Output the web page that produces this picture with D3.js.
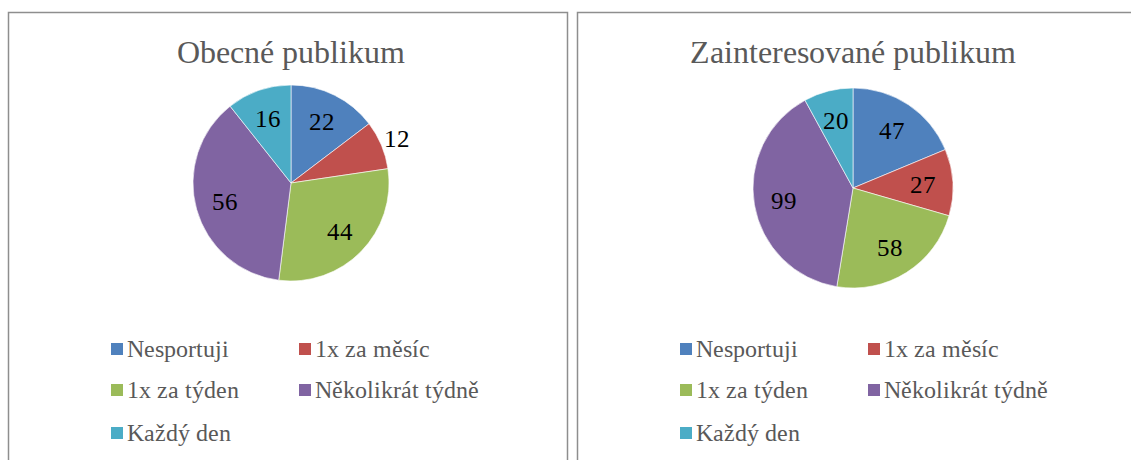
<!DOCTYPE html>
<html>
<head>
<meta charset="utf-8">
<script src="https://cdn.jsdelivr.net/npm/d3@7"></script>
<style>
@font-face { font-family: "ChartSerif"; src: local("Liberation Serif"), local("LiberationSerif"), local("LiberationSerif-Regular"); }
</style>
</head>
<body style="margin:0">
<svg id="chart" width="1131" height="460" style="display:block"></svg>
<script>
// ---- data ----
const categories = ["Nesportuji", "1x za měsíc", "1x za týden", "Několikrát týdně", "Každý den"];
const titles = ["Obecné publikum", "Zainteresované publikum"];
const valuesObecne = [22, 12, 44, 56, 16];
const valuesZainteresovane = [47, 27, 58, 99, 20];
const labelPlacementObecne = ["in", "out", "in", "in", "in"];
const labelPlacementZainteresovane = ["in", "in", "in", "in", "in"];
const colors = ["#4F81BD", "#C0504D", "#9BBB59", "#8064A2", "#4BACC6"];

const FONT = "ChartSerif, 'Liberation Serif', serif";
const svg = d3.select("#chart");

const panels = [
  { x: 8, y: 12, w: 559, h: 470, cx: 291, cy: 183, r: 98, title: titles[0], values: valuesObecne, place: labelPlacementObecne },
  { x: 577, y: 12, w: 560, h: 470, cx: 853, cy: 188, r: 100, title: titles[1], values: valuesZainteresovane, place: labelPlacementZainteresovane }
];

const color = d3.scaleOrdinal().domain(categories).range(colors);

panels.forEach(p => {
  const g = svg.append("g");
  g.append("rect")
    .attr("x", p.x + 0.5).attr("y", p.y + 0.5)
    .attr("width", p.w).attr("height", p.h)
    .attr("fill", "#fff").attr("stroke", "#8e8e8e").attr("stroke-width", 1.5);

  g.append("text")
    .attr("x", p.cx).attr("y", 63)
    .attr("text-anchor", "middle")
    .attr("font-family", FONT)
    .attr("font-size", 32)
    .attr("fill", "#595959")
    .text(p.title);

  const data = categories.map((c, i) => ({ cat: c, value: p.values[i], place: p.place[i] }));
  const pie = d3.pie().sort(null).value(d => d.value);
  const arcs = pie(data);
  const arc = d3.arc().innerRadius(0).outerRadius(p.r);
  const inLabel = d3.arc().innerRadius(p.r * 0.7).outerRadius(p.r * 0.7);
  const outLabel = d3.arc().innerRadius(p.r + 17).outerRadius(p.r + 17);

  const pg = g.append("g").attr("transform", `translate(${p.cx},${p.cy})`);
  pg.selectAll("path").data(arcs).enter().append("path")
    .attr("d", arc)
    .attr("fill", d => color(d.data.cat))
    .attr("stroke", "#fff").attr("stroke-width", 0.6);

  pg.selectAll("text.lbl").data(arcs).enter().append("text")
    .attr("class", "lbl")
    .attr("transform", d => `translate(${(d.data.place === "out" ? outLabel : inLabel).centroid(d)})`)
    .attr("text-anchor", "middle")
    .attr("dy", "0.35em")
    .attr("font-family", FONT)
    .attr("font-size", 25)
    .attr("fill", "#000")
    .text(d => d.data.value);

  // legend
  const colX = [p.x + 103, p.x + 291];
  const rowY = [349, 390, 433];
  const lg = g.append("g");
  categories.forEach((c, i) => {
    const cx = colX[i % 2], cy = rowY[Math.floor(i / 2)];
    lg.append("rect")
      .attr("x", cx).attr("y", cy - 6)
      .attr("width", 12).attr("height", 12)
      .attr("fill", color(c));
    lg.append("text")
      .attr("x", cx + 16).attr("y", cy)
      .attr("dy", "0.33em")
      .attr("font-family", FONT)
      .attr("font-size", 24)
      .attr("fill", "#595959")
      .text(c);
  });
});
</script>
</body>
</html>
